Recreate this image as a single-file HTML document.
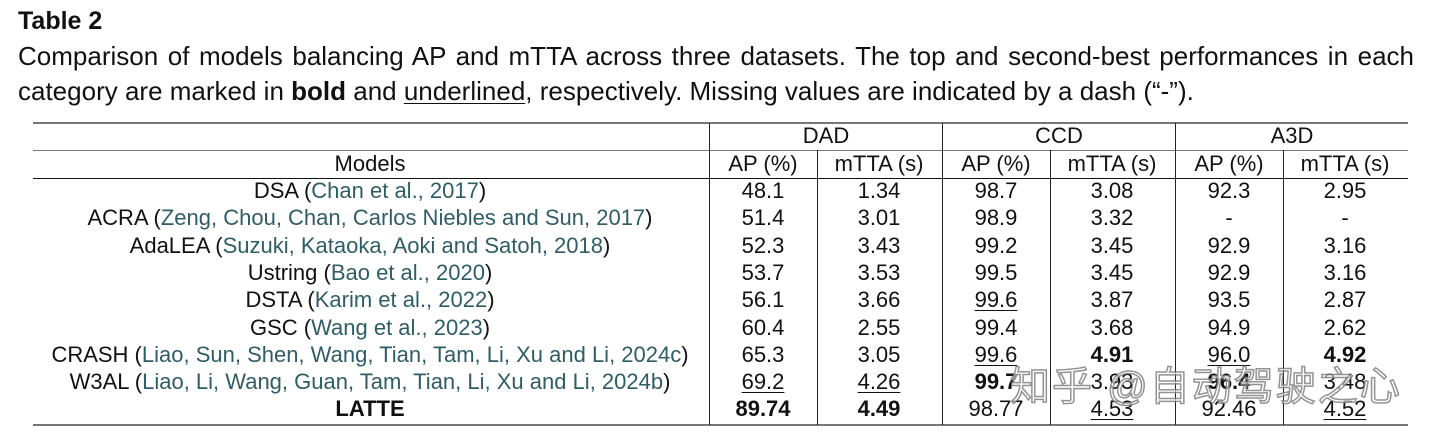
<!DOCTYPE html>
<html><head><meta charset="utf-8">
<style>
html,body{margin:0;padding:0;background:#fff;}
body{width:1440px;height:437px;position:relative;overflow:hidden;font-family:"Liberation Sans","Noto Sans CJK SC",sans-serif;color:#111;}
.t{position:absolute;white-space:nowrap;}
.c{position:absolute;transform:translate(-50%,-50%);white-space:nowrap;font-size:22px;}
.cap{position:absolute;left:18px;width:1396px;font-size:26px;white-space:nowrap;}
.hl{position:absolute;height:0;}
.vl{position:absolute;width:1px;background:#222;}
.cite{color:#2f5d66;}
u{text-decoration:underline;text-underline-offset:3px;text-decoration-thickness:1px;}
b{font-weight:bold;}
</style></head><body>
<div class="t" style="left:18px;top:7px;font-size:25px;font-weight:bold;">Table 2</div>
<div class="cap" style="top:41px;text-align:justify;text-align-last:justify;">Comparison of models balancing AP and mTTA across three datasets. The top and second-best performances in each</div>
<div class="cap" style="top:76px;">category are marked in <b>bold</b> and <u>underlined</u>, respectively. Missing values are indicated by a dash (“-”).</div>

<div class="hl" style="left:33px;width:1375px;top:122px;border-top:2px solid #777;"></div>
<div class="hl" style="left:33px;width:1375px;top:150px;border-top:1px solid #777;"></div>
<div class="hl" style="left:33px;width:1375px;top:178px;border-top:1px solid #111;"></div>
<div class="hl" style="left:33px;width:1375px;top:424px;border-top:2px solid #777;"></div>

<div class="vl" style="left:709px;top:123px;height:302px;"></div>
<div class="vl" style="left:942px;top:123px;height:302px;"></div>
<div class="vl" style="left:1175px;top:123px;height:302px;"></div>
<div class="vl" style="left:817px;top:150px;height:275px;"></div>
<div class="vl" style="left:1050px;top:150px;height:275px;"></div>
<div class="vl" style="left:1283px;top:150px;height:275px;"></div>

<div class="c" style="left:826px;top:136px;">DAD</div>
<div class="c" style="left:1059px;top:136px;">CCD</div>
<div class="c" style="left:1292px;top:136px;">A3D</div>
<div class="c" style="left:370px;top:164px;">Models</div>
<div class="c" style="left:763px;top:164px;">AP (%)</div>
<div class="c" style="left:879px;top:164px;">mTTA (s)</div>
<div class="c" style="left:996px;top:164px;">AP (%)</div>
<div class="c" style="left:1112px;top:164px;">mTTA (s)</div>
<div class="c" style="left:1229px;top:164px;">AP (%)</div>
<div class="c" style="left:1345px;top:164px;">mTTA (s)</div>

<div id="rows"></div>

<div class="t" style="left:1010px;top:354px;font-size:40px;color:rgba(255,255,255,0.6);-webkit-text-stroke:1.5px rgba(120,120,120,0.8);letter-spacing:2px;">知乎 @自动驾驶之心</div>

<script>
const models=["DSA","ACRA","AdaLEA","Ustring","DSTA","GSC","CRASH","W3AL","LATTE"];
const cites=["Chan et al., 2017","Zeng, Chou, Chan, Carlos Niebles and Sun, 2017","Suzuki, Kataoka, Aoki and Satoh, 2018","Bao et al., 2020","Karim et al., 2022","Wang et al., 2023","Liao, Sun, Shen, Wang, Tian, Tam, Li, Xu and Li, 2024c","Liao, Li, Wang, Guan, Tam, Tian, Li, Xu and Li, 2024b",""];
const dadAP=["48.1","51.4","52.3","53.7","56.1","60.4","65.3","_69.2","*89.74"];
const dadT=["1.34","3.01","3.43","3.53","3.66","2.55","3.05","_4.26","*4.49"];
const ccdAP=["98.7","98.9","99.2","99.5","_99.6","99.4","_99.6","*99.7","98.77"];
const ccdT=["3.08","3.32","3.45","3.45","3.87","3.68","*4.91","3.93","_4.53"];
const a3dAP=["92.3","-","92.9","92.9","93.5","94.9","_96.0","*96.4","92.46"];
const a3dT=["2.95","-","3.16","3.16","2.87","2.62","*4.92","3.48","_4.52"];
const cols=[[763,dadAP,'dad-ap'],[879,dadT,'dad-mtta'],[996,ccdAP,'ccd-ap'],[1112,ccdT,'ccd-mtta'],[1229,a3dAP,'a3d-ap'],[1345,a3dT,'a3d-mtta']];
const root=document.getElementById('rows');
function fmt(v){if(v[0]==='*')return '<b>'+v.slice(1)+'</b>';if(v[0]==='_')return '<u>'+v.slice(1)+'</u>';return v;}
models.forEach((m,i)=>{
  const y=191+i*27.3;
  const d=document.createElement('div');
  d.className='c';d.style.left='370px';d.style.top=y+'px';
  
  
  d.innerHTML=cites[i]?m+' (<span class="cite">'+cites[i]+'</span>)':'<b>'+m+'</b>';
  root.appendChild(d);
  cols.forEach(c=>{
    const e=document.createElement('div');
    e.className='c';e.style.left=c[0]+'px';e.style.top=y+'px';
    
    
    e.innerHTML=fmt(c[1][i]);
    root.appendChild(e);
  });
});
</script>
</body></html>
